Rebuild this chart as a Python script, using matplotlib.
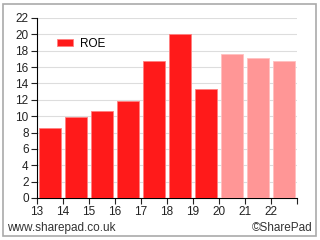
import matplotlib.pyplot as plt
from matplotlib.patches import Rectangle

plt.rcParams['font.family'] = ['Liberation Sans', 'DejaVu Sans']

years = [13, 14, 15, 16, 17, 18, 19]
roe = [8.6, 9.9, 10.6, 11.8, 16.7, 20.1, 13.3]
fc_years = [20, 21, 22]
fc_roe = [17.6, 17.1, 16.8]
xticks = list(range(13, 24))
xlabels = [str(t) for t in range(13, 23)] + [""]
yticks = list(range(0, 23, 2))

fig = plt.figure(figsize=(3.2, 2.4), dpi=100)
ax = fig.add_axes([37 / 320, 1 - 198 / 240, 260 / 320, 180 / 240])

ax.bar([y + 0.5 for y in years], roe, width=0.82, color="#ff1a1a",
       edgecolor="#ff8080", linewidth=0.6, label="ROE", zorder=3)
ax.bar([y + 0.5 for y in fc_years], fc_roe, width=0.82, color="#ff9696",
       edgecolor="#ffc0c0", linewidth=0.6, zorder=3)

ax.set_xlim(13, 23)
ax.set_ylim(0, 22)
ax.set_xticks(xticks)
ax.set_xticklabels(xlabels)
ax.set_yticks(yticks)
ax.tick_params(labelsize=8.5, length=4, width=0.8, colors="#222222", pad=2)
ax.grid(axis="y", color="#dddddd", linewidth=0.8, zorder=0)
for s in ["top", "right"]:
    ax.spines[s].set_visible(False)
for s in ["left", "bottom"]:
    ax.spines[s].set_linewidth(0.8)

leg = ax.legend(loc="upper left", bbox_to_anchor=(0.035, 0.95), frameon=False,
                fontsize=8.5, handlelength=1.4, handleheight=0.5, handletextpad=0.6)

fig.text(7 / 320, 1 - 228 / 240, "www.sharepad.co.uk", fontsize=8.5,
         color="#333333", va="center", ha="left")
fig.text(313 / 320, 1 - 228 / 240, "\u00a9SharePad", fontsize=8.5,
         color="#333333", va="center", ha="right")

fig.patches.append(Rectangle((3 / 320, 4 / 240), 313 / 320, 232 / 240,
                             transform=fig.transFigure, fill=False,
                             edgecolor="#aaaaaa", linewidth=1.2))

fig.savefig("out.png", dpi=100)
